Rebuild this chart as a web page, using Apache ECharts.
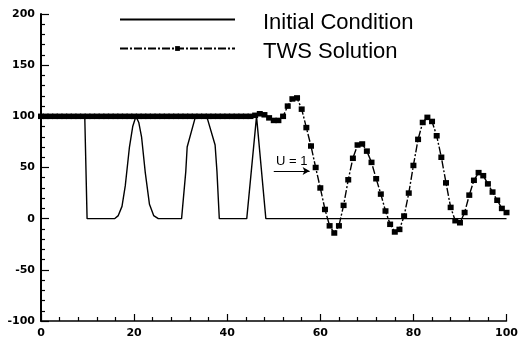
<!DOCTYPE html>
<html>
<head>
<meta charset="utf-8">
<script src="https://cdn.jsdelivr.net/npm/echarts@6/dist/echarts.min.js"></script>
<style>
  html, body { margin: 0; padding: 0; background: #fff; }
  #chart { width: 521px; height: 340px; }
</style>
</head>
<body>
<div id="chart"></div>
<script>
// initial condition: square, smooth bump, trapezoid, spike
const initX = [0, 9.4, 9.9, 15.8, 16.6, 17.4, 18.1, 19.0, 19.7, 20.4, 21.0, 21.6, 22.4, 23.3, 24.2, 25.2, 30.2, 31.1, 31.4, 33.2, 35.6, 37.4, 37.8, 38.3, 44.2, 46.3, 46.6, 48.3, 100]
const initY = [100, 100, 0, 0, 3, 12, 32, 70, 90, 100, 94, 80, 45, 14, 3, 0, 0, 46, 70, 100, 100, 72, 46, 0, 0, 100, 100, 0, 0]

// TWS solution on the grid points 0..100
const twsX = [
  0, 1, 2, 3, 4, 5, 6, 7, 8, 9, 10, 11, 12, 13, 14, 15, 16, 17, 18, 19, 20,
  21, 22, 23, 24, 25, 26, 27, 28, 29, 30, 31, 32, 33, 34, 35, 36, 37, 38, 39, 40,
  41, 42, 43, 44, 45, 46, 47, 48, 49, 50, 51, 52, 53, 54, 55, 56, 57, 58, 59, 60,
  61, 62, 63, 64, 65, 66, 67, 68, 69, 70, 71, 72, 73, 74, 75, 76, 77, 78, 79, 80,
  81, 82, 83, 84, 85, 86, 87, 88, 89, 90, 91, 92, 93, 94, 95, 96, 97, 98, 99, 100
]
const twsY = [
  100, 100, 100, 100, 100, 100, 100, 100, 100, 100, 100, 100, 100, 100, 100, 100, 100, 100, 100, 100, 100,
  100, 100, 100, 100, 100, 100, 100, 100, 100, 100, 100, 100, 100, 100, 100, 100, 100, 100, 100, 100,
  100, 100, 100, 100, 100, 101, 102.5, 101.5, 98.5, 96, 96, 100, 110, 117, 118, 107, 89, 71, 50, 30,
  9, -7, -14, -7, 13, 38, 59, 72, 73, 66, 55, 39, 24, 7.5, -5.5, -13, -10.5, 2.6, 25, 52,
  77.5, 94, 99, 95, 81, 60, 35, 11, -2, -4, 6, 23, 37.5, 45, 42, 34, 26, 18, 10, 6
]

const seriesNames = ['Initial Condition', 'TWS Solution']
const arrowFrom = [50, 46.5]
const arrowTo = [57.7, 46.5]
const arrowText = 'U = 1'

const chart = echarts.init(document.getElementById('chart'))

const labelFont = { color: '#000', fontFamily: 'DejaVu Sans', fontWeight: 'bold', fontSize: 11 }
// spacer line above the name pushes the text a little below the legend line
const legendText = {
  color: '#000',
  fontFamily: 'Liberation Sans',
  fontSize: 22,
  padding: [0, 0, 0, 23],
  rich: {
    s: { fontSize: 1, lineHeight: 6 },
    a: { fontFamily: 'Liberation Sans', fontSize: 22, lineHeight: 24, color: '#000' }
  }
}
const legendFormatter = name => '{s| }\n{a|' + name + '}'

chart.setOption({
  animation: false,
  backgroundColor: '#fff',
  grid: { left: 41, right: 11, top: 14, bottom: 19 },
  legend: [{
    data: [{ name: seriesNames[0], itemStyle: { opacity: 0 } }],
    left: 119,
    top: 7,
    padding: 0,
    itemWidth: 115,
    itemHeight: 6,
    formatter: legendFormatter,
    textStyle: legendText
  }, {
    data: [seriesNames[1]],
    left: 119,
    top: 36,
    padding: 0,
    itemWidth: 115,
    itemHeight: 6,
    formatter: legendFormatter,
    textStyle: legendText
  }],
  xAxis: {
    type: 'value',
    min: 0,
    max: 100,
    interval: 20,
    axisLine: { onZero: false, lineStyle: { color: '#000', width: 1.5 } },
    axisTick: { inside: true, length: 7, lineStyle: { color: '#000', width: 1.2 } },
    minorTick: { show: true, splitNumber: 5, length: 4, lineStyle: { color: '#000', width: 1.2 } },
    splitLine: { show: false },
    axisLabel: Object.assign({ margin: 7 }, labelFont)
  },
  yAxis: {
    type: 'value',
    min: -100,
    max: 200,
    interval: 50,
    axisLine: { show: true, lineStyle: { color: '#000', width: 2 } },
    axisTick: { show: true, inside: true, length: 8, lineStyle: { color: '#000', width: 1.2 } },
    minorTick: { show: true, splitNumber: 5, length: 4, lineStyle: { color: '#000', width: 1.2 } },
    splitLine: { show: false },
    axisLabel: Object.assign({ margin: 6 }, labelFont)
  },
  series: [{
    name: seriesNames[0],
    type: 'line',
    data: initX.map((x, i) => [x, initY[i]]),
    symbol: 'none',
    itemStyle: { color: '#000' },
    lineStyle: { color: '#000', width: 1.4 },
    z: 2
  }, {
    name: seriesNames[1],
    type: 'line',
    data: twsX.map((x, i) => [x, twsY[i]]),
    symbol: 'rect',
    symbolSize: [6, 5.5],
    showAllSymbol: true,
    itemStyle: { color: '#000' },
    lineStyle: { color: '#000', width: 1.4, type: [8, 2, 2, 2] },
    z: 3,
    markLine: {
      silent: true,
      symbol: ['none', 'arrow'],
      symbolSize: [6, 7],
      lineStyle: { color: '#000', width: 1.2, type: 'solid' },
      label: {
        show: true,
        position: 'insideMiddleTop',
        distance: 3,
        formatter: arrowText,
        color: '#000',
        fontFamily: 'Liberation Sans',
        fontSize: 13
      },
      data: [[{ coord: arrowFrom }, { coord: arrowTo }]]
    }
  }]
})
</script>
</body>
</html>
